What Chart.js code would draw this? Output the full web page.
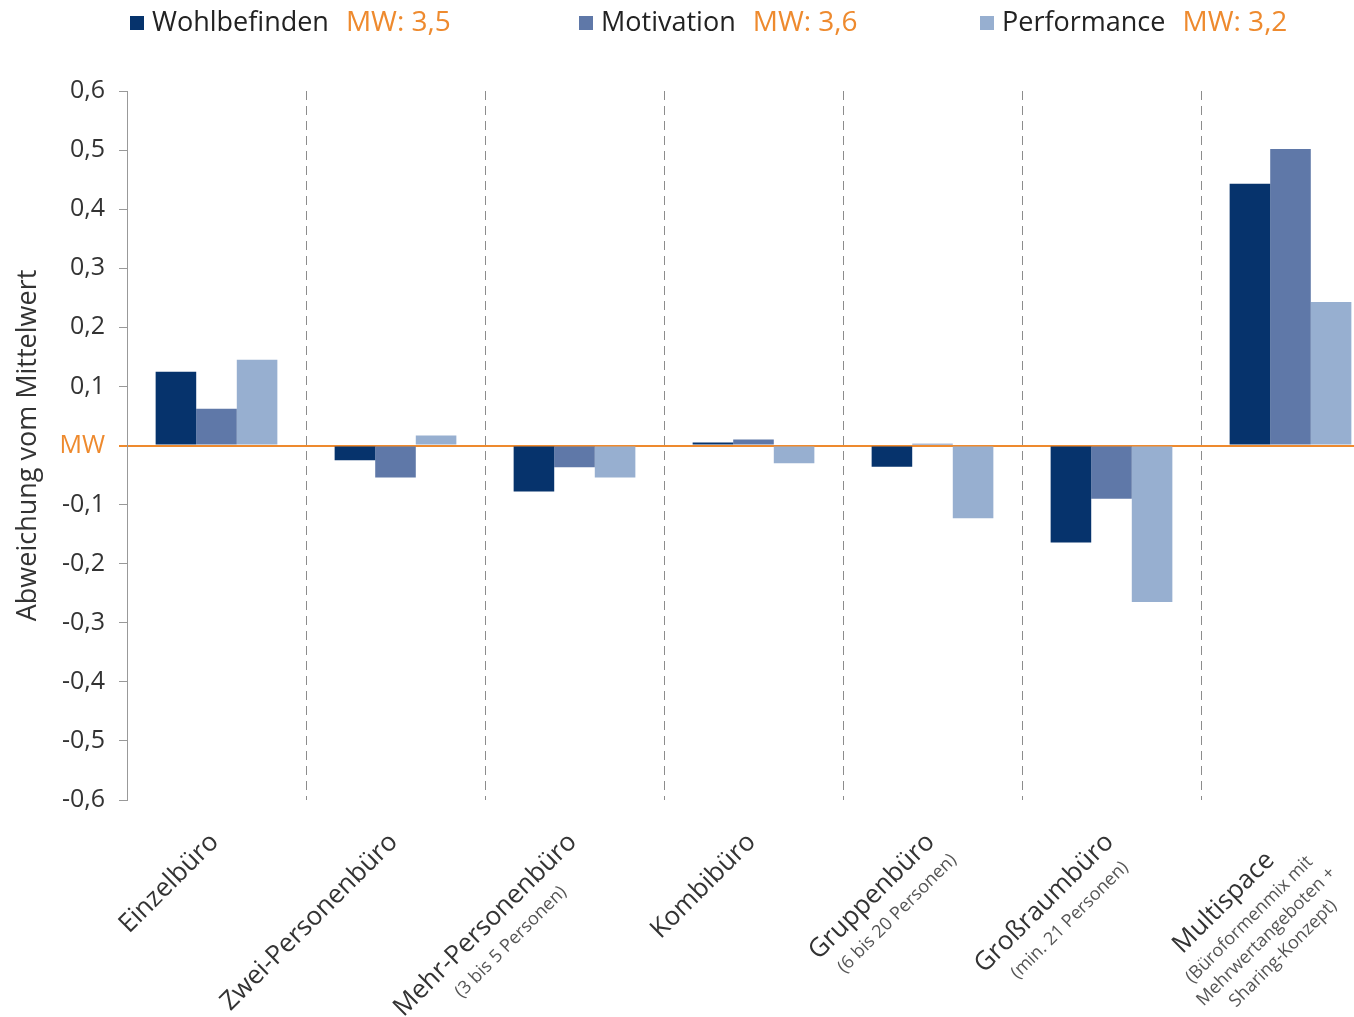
<!DOCTYPE html>
<html>
<head>
<meta charset="utf-8">
<script src="https://cdn.jsdelivr.net/npm/chart.js@4.4.0/dist/chart.umd.min.js"></script>
<style>
  html, body { margin: 0; padding: 0; background: #fff; overflow: hidden; }
  #wrap { width: 1380px; height: 1017px; }
</style>
</head>
<body>
<div id="wrap"><canvas id="chart" width="1380" height="1017"></canvas></div>
<script>
// Daten
const categories = ['Einzelbüro', 'Zwei-Personenbüro', 'Mehr-Personenbüro', 'Kombibüro', 'Gruppenbüro', 'Großraumbüro', 'Multispace'];
const subLabels = [[], [], ['(3 bis 5 Personen)'], [], ['(6 bis 20 Personen)'], ['(min. 21 Personen)'], ['(Büroformenmix mit', 'Mehrwertangeboten +', 'Sharing-Konzept)']];
const seriesNames = ['Wohlbefinden', 'Motivation', 'Performance'];
const seriesMeans = ['MW: 3,5', 'MW: 3,6', 'MW: 3,2'];
const wohlbefinden = [0.125, -0.025, -0.078, 0.005, -0.036, -0.164, 0.443];
const motivation = [0.062, -0.054, -0.037, 0.010, 0.003, -0.090, 0.502];
const performance = [0.145, 0.017, -0.054, -0.030, -0.123, -0.265, 0.243];
const yMin = -0.6;
const yMax = 0.6;
const yStep = 0.1;

const colors = ['#06336c', '#5f78a8', '#97afd0'];
const orange = '#ee8a2e';
const textColor = '#333333';
const fontFamily = "'Open Sans', 'Noto Sans', sans-serif";

const isZero = v => Math.abs(v) < 1e-9;

// Legende oben (Name + Mittelwert in Orange)
const legendPlugin = {
  id: 'topLegend',
  afterDraw(chart) {
    const ctx = chart.ctx;
    const starts = [130, 579, 980];
    ctx.save();
    ctx.textBaseline = 'middle';
    ctx.textAlign = 'left';
    chart.data.datasets.forEach((ds, i) => {
      let x = starts[i];
      const y = 23;
      ctx.fillStyle = ds.backgroundColor;
      ctx.fillRect(x, y - 7, 14, 14);
      x += 22;
      ctx.font = '27px ' + fontFamily;
      ctx.fillStyle = '#222';
      ctx.fillText(seriesNames[i], x, y);
      x += ctx.measureText(seriesNames[i]).width + 17;
      ctx.font = '28px ' + fontFamily;
      ctx.fillStyle = orange;
      ctx.fillText(seriesMeans[i], x, y);
    });
    ctx.restore();
  }
};

// Schräge Kategorienbeschriftung mit kleineren Zusatzzeilen
const xLabelPlugin = {
  id: 'xLabels',
  afterDraw(chart) {
    const ctx = chart.ctx;
    const xs = chart.scales.x;
    const top = chart.chartArea.bottom + 38;
    const maxX = 1334;
    const c = Math.SQRT1_2;
    ctx.save();
    categories.forEach((label, i) => {
      const cx = xs.getPixelForValue(i) - 2;
      ctx.font = '26px ' + fontFamily;
      const w = ctx.measureText(label).width;
      ctx.font = '18px ' + fontFamily;
      // Zeilen im gedrehten System: [start, ende, y], zentriert unter der Hauptzeile
      const lines = [[-w, 0, 0]];
      subLabels[i].forEach((s, k) => {
        const sw = ctx.measureText(s).width;
        const mid = -w / 2 + 6;
        lines.push([mid - sw / 2, mid + sw / 2, 30 + k * 24]);
      });
      // Block nach links schieben, falls er über den Rand ragt
      let shift = 0;
      lines.forEach(l => {
        const ex = cx + (l[1] + l[2]) * c;
        if (ex > maxX) shift = Math.max(shift, (ex - maxX) / c);
      });
      ctx.save();
      ctx.translate(cx, top);
      ctx.rotate(-Math.PI / 4);
      ctx.textBaseline = 'middle';
      ctx.textAlign = 'left';
      ctx.font = '26px ' + fontFamily;
      ctx.fillStyle = textColor;
      ctx.fillText(label, -w - shift, 0);
      ctx.font = '18px ' + fontFamily;
      ctx.fillStyle = '#555';
      subLabels[i].forEach((s, k) => {
        const l = lines[k + 1];
        ctx.fillText(s, l[0] - shift, l[2]);
      });
      ctx.restore();
    });
    ctx.restore();
  }
};

new Chart(document.getElementById('chart'), {
  type: 'bar',
  data: {
    labels: categories,
    datasets: [
      { label: seriesNames[0], data: wohlbefinden, backgroundColor: colors[0] },
      { label: seriesNames[1], data: motivation, backgroundColor: colors[1] },
      { label: seriesNames[2], data: performance, backgroundColor: colors[2] }
    ]
  },
  options: {
    responsive: false,
    animation: false,
    layout: { padding: { top: 91, left: 0, right: 0, bottom: 0 } },
    datasets: { bar: { categoryPercentage: 0.68, barPercentage: 1.0, borderWidth: 0 } },
    plugins: { legend: { display: false }, tooltip: { enabled: false } },
    scales: {
      x: {
        offset: true,
        ticks: { display: false },
        grid: {
          offset: true,
          drawTicks: false,
          color: ctx => ctx.index === 0 ? 'rgba(0,0,0,0)' : '#8c8c8c',
          lineWidth: 1
        },
        border: { display: false, dash: [9, 6] },
        afterFit(scale) { scale.height = 217; }
      },
      y: {
        min: yMin,
        max: yMax,
        z: 1,
        ticks: {
          stepSize: yStep,
          padding: 14,
          font: { family: fontFamily, size: 25 },
          color: ctx => isZero(ctx.tick.value) ? orange : textColor,
          callback: v => isZero(v) ? 'MW' : v.toFixed(1).replace('.', ',')
        },
        grid: {
          drawTicks: true,
          tickLength: 8,
          color: ctx => ctx.tick && isZero(ctx.tick.value) ? orange : 'rgba(0,0,0,0)',
          lineWidth: ctx => ctx.tick && isZero(ctx.tick.value) ? 2 : 1,
          tickColor: ctx => ctx.tick && isZero(ctx.tick.value) ? orange : '#999'
        },
        border: { display: true, color: '#999', width: 1 },
        title: {
          display: true,
          text: 'Abweichung vom Mittelwert',
          color: textColor,
          font: { family: fontFamily, size: 27 },
          padding: { top: 12, bottom: 0 }
        },
        afterFit(scale) { scale.width = 127; }
      }
    }
  },
  plugins: [legendPlugin, xLabelPlugin]
});
</script>
</body>
</html>
